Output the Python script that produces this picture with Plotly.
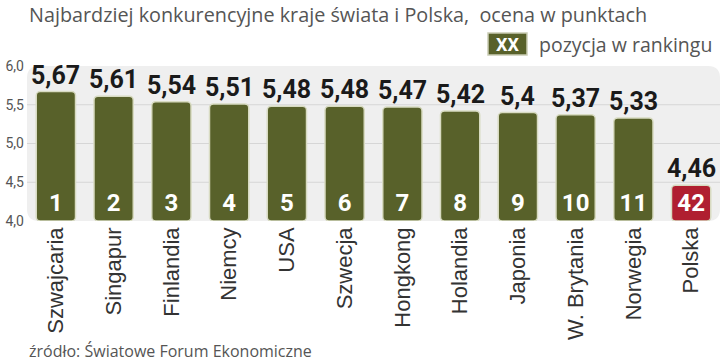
import plotly.graph_objects as go

countries = ["Szwajcaria", "Singapur", "Finlandia", "Niemcy", "USA", "Szwecja",
             "Hongkong", "Holandia", "Japonia", "W. Brytania", "Norwegia", "Polska"]
scores = [5.67, 5.61, 5.54, 5.51, 5.48, 5.48, 5.47, 5.42, 5.40, 5.37, 5.33, 4.46]
ranks = [1, 2, 3, 4, 5, 6, 7, 8, 9, 10, 11, 42]
y_ticks = [4.0, 4.5, 5.0, 5.5, 6.0]
grid_vals = [4.5, 5.0, 5.5]

OLIVE = "#58612a"
RED = "#b01f30"
bar_colors = [RED if c == "Polska" else OLIVE for c in countries]
score_labels = [str(v).replace(".", ",") for v in scores]

L, T, B = 27, 66, 141
PW, PH = 720 - L, 362 - T - B


def px(x):
    return (x - L) / PW


def py(y):
    return (362 - B - y) / PH


fig = go.Figure()
fig.add_trace(go.Bar(
    x=countries, y=[s - 4.0 for s in scores], base=4.0,
    marker=dict(color=bar_colors, line=dict(color="#d8dbc2", width=1.5), cornerradius=4),
    text=[str(r) for r in ranks], textposition="inside", insidetextanchor="start",
    textangle=0, constraintext="none",
    textfont=dict(family="Roboto", size=24, color="white", weight="bold"),
    hoverinfo="skip",
))

for c, s, lab in zip(countries, scores, score_labels):
    fig.add_annotation(x=c, y=s, text=lab, showarrow=False, yanchor="bottom", xanchor="center",
                       yshift=0, font=dict(family="Roboto", size=25, color="#1a1a1a", weight="bold"))

shapes = []
rx, ry = 12 / PW, 12 / PH
path = (f"M {rx},0 L {1-rx},0 Q 1,0 1,{ry} L 1,{1-ry} Q 1,1 {1-rx},1 "
        f"L {rx},1 Q 0,1 0,{1-ry} L 0,{ry} Q 0,0 {rx},0 Z")
shapes.append(dict(type="path", path=path, xref="paper", yref="paper",
                   fillcolor="#efefef", line=dict(width=0), layer="below"))
for g in grid_vals:
    shapes.append(dict(type="line", xref="paper", yref="y", x0=0, x1=1, y0=g, y1=g,
                       line=dict(color="#d6d6d6", width=1), layer="below"))

# legend box
shapes.append(dict(type="rect", xref="paper", yref="paper", x0=px(488), x1=px(527),
                   y0=py(55), y1=py(33), fillcolor=OLIVE,
                   line=dict(color="#c9ccb4", width=1.5)))
fig.add_annotation(xref="paper", yref="paper", x=px(507.5), y=py(44), xanchor="center", yanchor="middle",
                   text="XX", showarrow=False, font=dict(family="Roboto", size=18, color="white", weight="bold"))
fig.add_annotation(xref="paper", yref="paper", x=px(537), y=py(44), xanchor="left", yanchor="middle",
                   text="pozycja w rankingu", showarrow=False,
                   font=dict(family="Open Sans", size=19.5, color="#555555"))

fig.add_annotation(xref="paper", yref="paper", x=0, y=py(14), xanchor="left", yanchor="middle",
                   text="Najbardziej konkurencyjne kraje świata i Polska,  ocena w punktach", showarrow=False,
                   font=dict(family="Open Sans", size=19.8, color="#555555"))
fig.add_annotation(xref="paper", yref="paper", x=0, y=py(351), xanchor="left", yanchor="middle",
                   text="źródło: Światowe Forum Ekonomiczne", showarrow=False,
                   font=dict(family="Open Sans", size=16, color="#555555"))

fig.update_layout(
    width=720, height=362, margin=dict(l=L, r=0, t=T, b=B),
    paper_bgcolor="white", plot_bgcolor="rgba(0,0,0,0)",
    separators=", ", showlegend=False, bargap=0.32, shapes=shapes,
)
fig.update_xaxes(tickangle=-90, tickfont=dict(family="Liberation Sans, Arial", size=22, color="#333333"),
                 showgrid=False, showline=False, ticks="", automargin=False, ticklabelstandoff=1)
fig.update_yaxes(range=[4, 6], tickvals=y_ticks, tickformat=".1f", showgrid=False, zeroline=False,
                 tickfont=dict(family="Roboto", size=14, color="#555555"), ticklabelstandoff=2,
                 automargin=False)

fig.write_html("out.html", config={"displayModeBar": False},
               post_script="document.body.style.margin='0';")
